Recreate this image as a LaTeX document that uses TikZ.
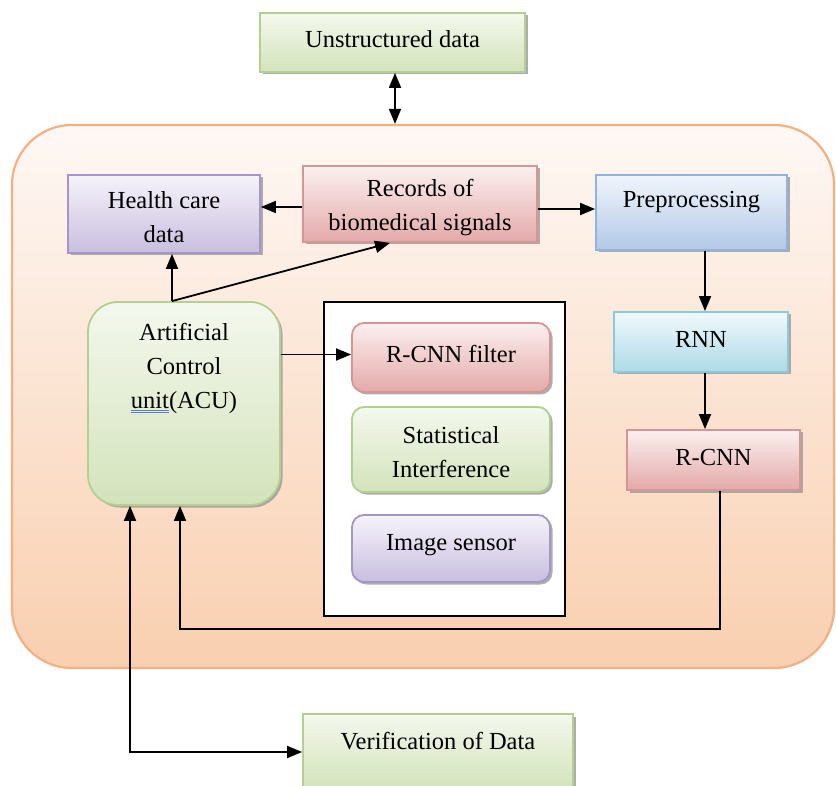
\documentclass[tikz,border=0pt]{standalone}
\usepackage{fontspec}
\setmainfont{Liberation Serif}
\usetikzlibrary{shadows,arrows.meta}
\definecolor{contB}{HTML}{F2B083}
\definecolor{contT}{HTML}{FEF8F5}
\definecolor{contD}{HTML}{F9CFAF}
\definecolor{purB}{HTML}{A596C8}
\definecolor{purT}{HTML}{F6F3FA}
\definecolor{purD}{HTML}{C9BEDF}
\definecolor{redB}{HTML}{D99494}
\definecolor{redT}{HTML}{FCF0F0}
\definecolor{redD}{HTML}{E4A9A9}
\definecolor{bluB}{HTML}{93B3DC}
\definecolor{bluT}{HTML}{F1F5FB}
\definecolor{bluD}{HTML}{B2C8E7}
\definecolor{cyaB}{HTML}{8CC9DA}
\definecolor{cyaT}{HTML}{F1F9FC}
\definecolor{cyaD}{HTML}{ADDAE7}
\definecolor{grnB}{HTML}{B5CF90}
\definecolor{grnT}{HTML}{F4F8EE}
\definecolor{grnD}{HTML}{D3E3BB}
\definecolor{wordblue}{HTML}{5B7FC8}
\tikzset{
  box/.style={draw, line width=1.8pt, inner sep=0pt, align=center,
    drop shadow={shadow xshift=2.5pt, shadow yshift=-2.5pt, fill=black!40, opacity=0.8}},
  purbox/.style={box, draw=purB, top color=purT, bottom color=purD},
  redbox/.style={box, draw=redB, top color=redT, bottom color=redD},
  blubox/.style={box, draw=bluB, top color=bluT, bottom color=bluD},
  cyabox/.style={box, draw=cyaB, top color=cyaT, bottom color=cyaD},
  grnbox/.style={box, draw=grnB, top color=grnT, bottom color=grnD},
  lbl/.style={align=center, inner sep=0pt},
  arr/.style={line width=1.8pt, -{Triangle[length=15pt,width=12pt]}},
  darr/.style={line width=1.8pt, {Triangle[length=15pt,width=12pt]}-{Triangle[length=15pt,width=12pt]}}
}
\begin{document}
\begin{tikzpicture}[x=1pt,y=-1pt,font=\fontsize{24.5}{34}\selectfont]
\useasboundingbox (0,0) rectangle (836,786);
% container
\node[draw=contB, line width=2.2pt, top color=contT, bottom color=contD, rounded corners=60pt,
  minimum width=822pt, minimum height=543pt, inner sep=0pt] (cont) at (423,396.5) {};
% top box
\node[grnbox, minimum width=265pt, minimum height=59pt] (unstr) at (392.5,42.5) {};
\node[lbl] (unstrT) at (392.5,39) {Unstructured data};
% health care
\node[purbox, minimum width=192pt, minimum height=78pt] (hc) at (164,214) {};
\node[lbl] (hcT) at (164,217) {Health care\\data};
% records
\node[redbox, minimum width=234pt, minimum height=76pt] (rec) at (420,204) {};
\node[lbl] (recT) at (420,208) {Records of\\biomedical signals};
% preprocessing
\node[blubox, minimum width=191pt, minimum height=75pt] (pre) at (691.5,212.5) {};
\node[lbl] (preT) at (691.5,202) {Preprocessing};
% RNN
\node[cyabox, minimum width=174pt, minimum height=60pt] (rnn) at (701,342) {};
\node[lbl] (rnnT) at (701,339) {RNN};
% R-CNN
\node[redbox, minimum width=173pt, minimum height=60pt] (rcnn) at (713.5,460) {};
\node[lbl] (rcnnT) at (713.5,458) {R-CNN};
% ACU
\node[grnbox, rounded corners=30pt, minimum width=192pt, minimum height=203pt] (acu) at (184,403.5) {};
\node[lbl, anchor=north] (acuT) at ([yshift=-22pt]acu.north) {Artificial\\Control\\{\color{wordblue}\underline{\underline{\color{black}unit}}}(ACU)};
% inner panel
\node[draw=black, line width=1.5pt, fill=white, minimum width=241pt, minimum height=314pt, inner sep=0pt] (panel) at (444.5,459) {};
\node[redbox, rounded corners=12pt, minimum width=198pt, minimum height=69pt] (filt) at (451,357.5) {};
\node[lbl] (filtT) at (451,354) {R-CNN filter};
\node[grnbox, rounded corners=12pt, minimum width=198pt, minimum height=85pt] (stat) at (451,449.5) {};
\node[lbl] (statT) at (451,452) {Statistical\\Interference};
\node[purbox, rounded corners=12pt, minimum width=198pt, minimum height=67pt] (img) at (451,548.5) {};
\node[lbl] (imgT) at (451,545) {Image sensor};
% verification
\node[grnbox, minimum width=270pt, minimum height=76pt] (ver) at (438,752) {};
\node[lbl] (verT) at (438,741) {Verification of Data};
% connectors
\draw[darr] ([xshift=2.5pt]unstr.south) -- ([xshift=2.5pt]unstr.south |- cont.north);
\draw[arr] ([yshift=-3pt]rec.west) -- ([yshift=-3pt]rec.west -| hc.east);
\draw[arr] ([yshift=-5pt]rec.east) -- ([yshift=-5pt]rec.east -| pre.west);
\draw[arr] ([xshift=13.5pt]pre.south) -- ([xshift=13.5pt]pre.south |- rnn.north);
\draw[arr] ([xshift=4pt]rnn.south) -- ([xshift=4pt]rnn.south |- rcnn.north);
\draw[arr] ([xshift=-12pt]acu.north) -- ([xshift=-12pt]acu.north |- hc.south);
\draw[arr] ([xshift=-12pt]acu.north) -- ([xshift=-30pt]rec.south);
\draw[arr] ([yshift=3pt]acu.east |- filt.west) -- ([yshift=3pt]filt.west);
\coordinate (fbk) at ([xshift=6.5pt,yshift=-138pt]rcnn.south);
\draw[arr] ([xshift=6.5pt]rcnn.south) -- (fbk) -| ([xshift=-4pt]acu.south);
\draw[darr] ([xshift=-54pt]acu.south) |- (ver.west);
\end{tikzpicture}
\end{document}
